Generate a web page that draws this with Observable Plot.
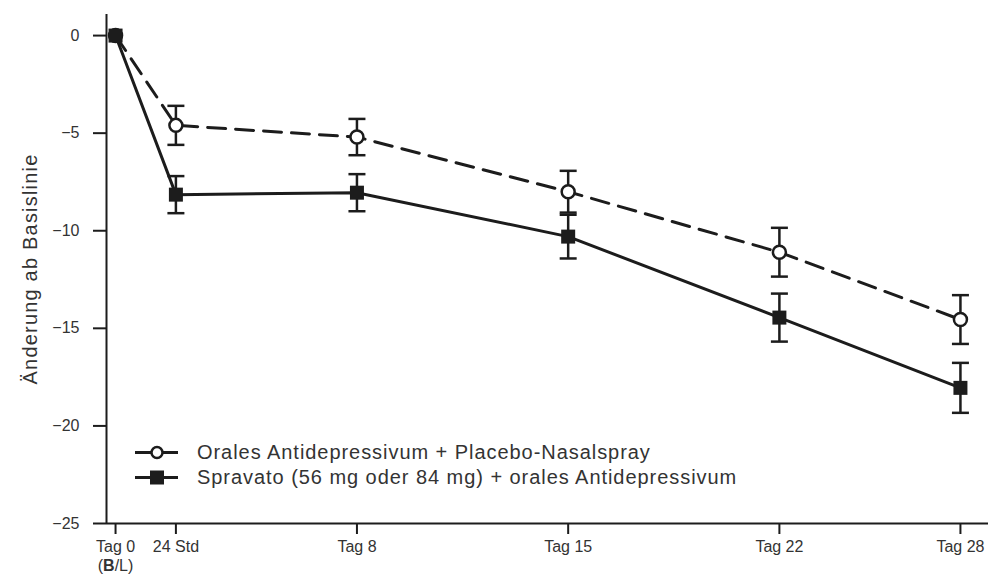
<!DOCTYPE html>
<html>
<head>
<meta charset="utf-8">
<script src="https://cdn.jsdelivr.net/npm/d3@7"></script>
<script src="https://cdn.jsdelivr.net/npm/@observablehq/plot@0.6"></script>
<style>
  html, body { margin: 0; padding: 0; background: #fff; }
  #wrap { position: relative; width: 988px; height: 577px; font-family: "Liberation Sans", Arial, sans-serif; }
  #legend { position: absolute; left: 135px; top: 440px; color: #333; font-size: 20px; letter-spacing: 0.95px; }
  #legend .row { display: flex; align-items: center; height: 25px; white-space: nowrap; }
  #legend svg { display: block; margin-right: 19px; }
</style>
</head>
<body>
<div id="wrap"></div>
<script>
// ---- data ----
const timepoints = ["Tag 0", "24 Std", "Tag 8", "Tag 15", "Tag 22", "Tag 28"];
const xPositions = [0, 2, 8, 15, 22, 28];            // where each timepoint sits on the original x axis
const placeboMean = [0, -4.6, -5.2, -8.0, -11.1, -14.55];
const placeboSE   = [0, 1.0, 0.93, 1.07, 1.25, 1.25];
const spravatoMean = [0, -8.15, -8.05, -10.3, -14.45, -18.05];
const spravatoSE   = [0, 0.95, 0.95, 1.12, 1.23, 1.28];
const yTicks = [0, -5, -10, -15, -20, -25];
const seriesNames = [
  "Orales Antidepressivum + Placebo-Nasalspray",
  "Spravato (56 mg oder 84 mg) + orales Antidepressivum"
];
const yLabel = "Änderung ab Basislinie";

// ---- table built from the arrays ----
const toRows = (mean, se, series) => timepoints.map((t, i) => ({
  t, x: xPositions[i], y: mean[i], lo: mean[i] - se[i], hi: mean[i] + se[i], se: se[i], series
}));
const placebo = toRows(placeboMean, placeboSE, seriesNames[0]);
const spravato = toRows(spravatoMean, spravatoSE, seriesNames[1]);
const withBars = (rows) => rows.filter(d => d.se > 0);
const caps = (rows) => withBars(rows).flatMap(d => [{x: d.x, y: d.lo}, {x: d.x, y: d.hi}]);

const ink = "#1c1c1c";
const xDomain = [-0.3, 28.93];
const yDomain = [-25, 1.08];

// horizontal cap symbol for error bars
const capSymbol = { draw(ctx, size) { const r = Math.sqrt(size / Math.PI); ctx.moveTo(-r, 0); ctx.lineTo(r, 0); } };

const chart = Plot.plot({
  width: 988,
  height: 577,
  marginLeft: 106,
  marginRight: 0,
  marginTop: 14,
  marginBottom: 54,
  style: { fontFamily: "'Liberation Sans', Arial, sans-serif", fontSize: "16px", color: "#333", background: "#fff" },
  x: { domain: xDomain },
  y: { domain: yDomain },
  marks: [
    Plot.axisY({ ticks: yTicks, tickSize: 13, tickPadding: 14, strokeWidth: 2, stroke: ink, label: null, fontSize: 16 }),
    Plot.axisY({ ticks: [], tickSize: 0, label: yLabel, labelAnchor: "center", labelArrow: "none", labelOffset: 84, fontSize: 20 }),
    Plot.axisX({ ticks: xPositions, tickSize: 11, tickPadding: 4, strokeWidth: 2, stroke: ink, label: null, fontSize: 16, lineHeight: 1.2,
      tickFormat: (d) => { const i = xPositions.indexOf(d); return i === 0 ? timepoints[i] + "\n(B/L)" : timepoints[i]; } }),
    Plot.ruleX([xDomain[0]], { stroke: ink, strokeWidth: 2 }),
    Plot.ruleY([yDomain[0]], { stroke: ink, strokeWidth: 2 }),
    // lines
    Plot.line(placebo, { x: "x", y: "y", stroke: ink, strokeWidth: 3, strokeDasharray: "18,10" }),
    Plot.line(spravato, { x: "x", y: "y", stroke: ink, strokeWidth: 3 }),
    // error bars
    Plot.ruleX(withBars(placebo), { x: "x", y1: "lo", y2: "hi", stroke: ink, strokeWidth: 2.5 }),
    Plot.ruleX(withBars(spravato), { x: "x", y1: "lo", y2: "hi", stroke: ink, strokeWidth: 2.5 }),
    Plot.dot(caps(placebo), { x: "x", y: "y", symbol: capSymbol, r: 8.5, fill: "none", stroke: ink, strokeWidth: 2.5 }),
    Plot.dot(caps(spravato), { x: "x", y: "y", symbol: capSymbol, r: 8.5, fill: "none", stroke: ink, strokeWidth: 2.5 }),
    // markers
    Plot.dot(placebo, { x: "x", y: "y", symbol: "circle", r: 6.5, fill: "#fff", stroke: ink, strokeWidth: 2.5 }),
    Plot.dot(spravato, { x: "x", y: "y", symbol: "square", r: 7.9, fill: ink, stroke: "none" })
  ]
});

// letter spacing of the y label, bold "B" in "(B/L)"
d3.select(chart).selectAll("text").each(function () {
  if (this.textContent === yLabel) this.setAttribute("letter-spacing", "1.2");
});
d3.select(chart).selectAll("tspan").each(function () {
  if (this.textContent === "(B/L)") {
    this.textContent = "(";
    const ns = "http://www.w3.org/2000/svg";
    const b = document.createElementNS(ns, "tspan");
    b.setAttribute("font-weight", "bold");
    b.textContent = "B";
    const rest = document.createElementNS(ns, "tspan");
    rest.textContent = "/L)";
    this.after(b, rest);
  }
});

const wrap = document.getElementById("wrap");
wrap.appendChild(chart);

// legend (drawn inside the plot area, as in the reference)
const legend = document.createElement("div");
legend.id = "legend";
const icon = (kind) => {
  const sym = kind === "circle"
    ? `<circle cx="22" cy="12.5" r="5.5" fill="#fff" stroke="${ink}" stroke-width="2.5"/>`
    : `<rect x="15" y="5.5" width="14" height="14" fill="${ink}"/>`;
  return `<svg width="43" height="25"><line x1="0" x2="43" y1="12.5" y2="12.5" stroke="${ink}" stroke-width="3"/>${sym}</svg>`;
};
legend.innerHTML = seriesNames.map((name, i) =>
  `<div class="row">${icon(i === 0 ? "circle" : "square")}<span>${name}</span></div>`).join("");
wrap.appendChild(legend);
</script>
</body>
</html>
